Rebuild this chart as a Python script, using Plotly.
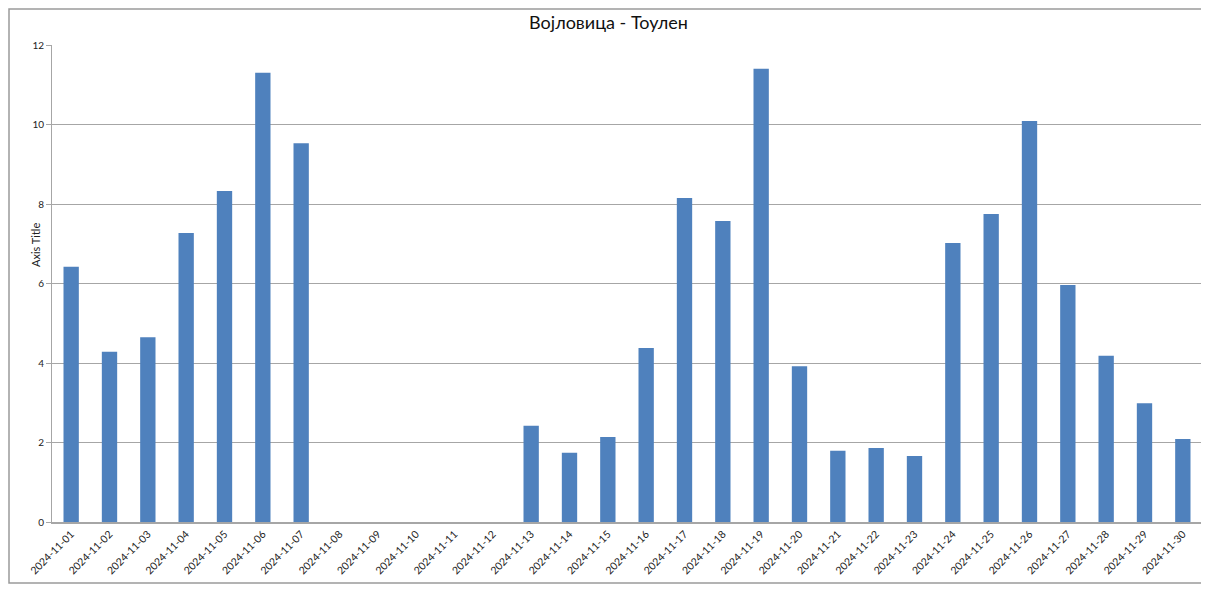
import plotly.graph_objects as go

dates = [f"2024-11-{d:02d}" for d in range(1, 31)]
values = [6.42, 4.28, 4.65, 7.27, 8.33, 11.30, 9.53,
          None, None, None, None, None,
          2.42, 1.74, 2.14, 4.38, 8.15, 7.57, 11.40, 3.92,
          1.79, 1.86, 1.66, 7.02, 7.75, 10.09, 5.96, 4.18, 2.99, 2.09]
title = "Војловица - Тоулен"
y_title = "Axis Title"

# page has an 8px body margin; size the figure to fit inside the window
W, H = 1201, 576
L, T = 44, 37
pw, ph = 1150, 477
R = W - L - pw
B = H - T - ph

fig = go.Figure(go.Bar(x=dates, y=values, marker=dict(color="#4f81bd", line=dict(width=0)), width=0.4))

fig.update_layout(
    width=W, height=H,
    margin=dict(l=L, r=R, t=T, b=B),
    paper_bgcolor="white", plot_bgcolor="white",
    font=dict(family="Lato, 'Open Sans', sans-serif", color="#222"),
    title=dict(text=title, x=0.5, xanchor="center", y=1 - 15 / H, yanchor="middle",
               font=dict(size=18, color="#111")),
    showlegend=False,
    xaxis=dict(type="category", categoryorder="array", categoryarray=dates,
               tickangle=-45, tickfont=dict(size=10.5), showgrid=False,
               showline=True, linecolor="#a6a6a6", linewidth=2, ticks="", range=[-0.5, 29.5]),
    yaxis=dict(range=[0, 12], dtick=2, tickfont=dict(size=10), showgrid=True,
               gridcolor="#a6a6a6", gridwidth=1, zeroline=False, showline=True,
               linecolor="#a6a6a6", linewidth=1, ticks="outside", ticklen=5, tickcolor="#a6a6a6"),
)

fig.add_annotation(text=y_title, xref="paper", yref="paper",
                   x=(27 - L) / pw, y=1 - (237 - T) / ph, textangle=-90,
                   showarrow=False, xanchor="center", yanchor="middle",
                   font=dict(size=11, color="#222"))

fig.add_shape(type="rect", xref="paper", yref="paper",
              x0=(1 - L) / pw, x1=(W - 1 - L) / pw,
              y0=(1 - B) / ph, y1=(H - 1 - B) / ph,
              line=dict(color="#9a9a9a", width=1.5), fillcolor="rgba(0,0,0,0)", layer="below")

fig.write_html("out.html")
